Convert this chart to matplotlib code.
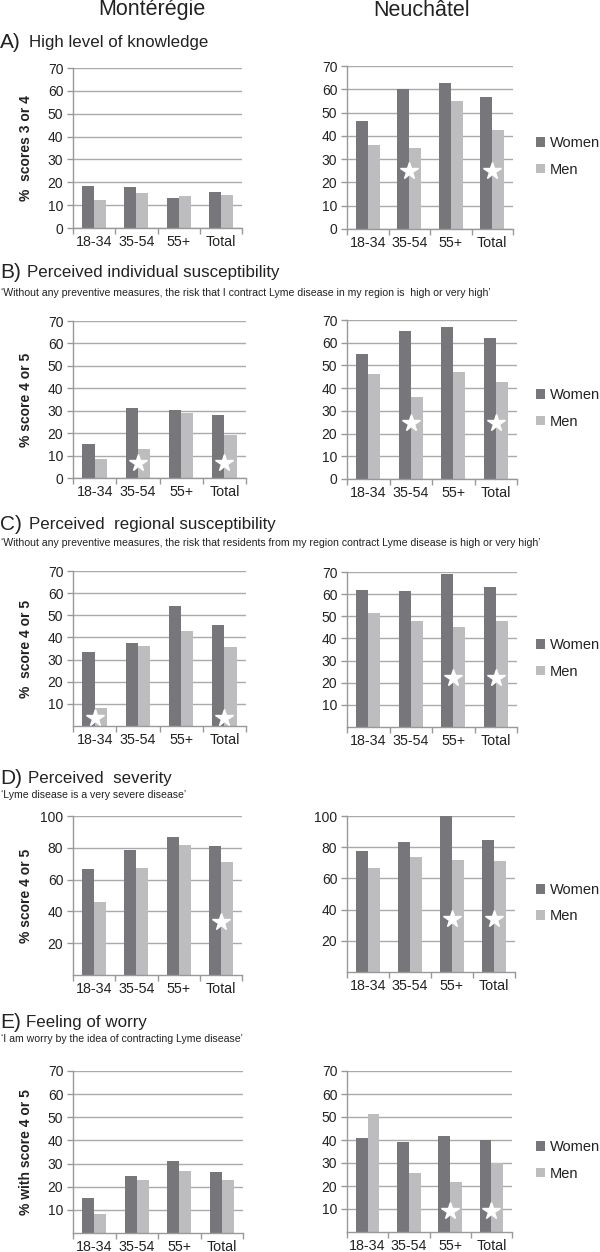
import numpy as np
import matplotlib
matplotlib.use("Agg")
import matplotlib.pyplot as plt
from matplotlib.patches import Patch

plt.rcParams['font.family'] = ['Liberation Sans', 'DejaVu Sans']

# ---------------- data ----------------
categories = ["18-34", "35-54", "55+", "Total"]
regions = ["Montérégie", "Neuchâtel"]
series_names = ["Women", "Men"]

# A) High level of knowledge
a_mont_women = [18.2, 18.0, 13.2, 15.6]
a_mont_men = [12.4, 15.2, 14.0, 14.4]
a_neu_women = [46.5, 60.0, 62.5, 56.5]
a_neu_men = [36.0, 35.0, 55.0, 42.5]
a_mont_stars, a_mont_star_y = [], 0
a_neu_stars, a_neu_star_y = [1, 3], 25

# B) Perceived individual susceptibility
b_mont_women = [15.2, 31.0, 30.5, 28.0]
b_mont_men = [8.3, 13.0, 29.0, 19.2]
b_neu_women = [55.0, 65.0, 66.7, 62.2]
b_neu_men = [46.2, 36.2, 47.0, 42.5]
b_mont_stars, b_mont_star_y = [1, 3], 6.5
b_neu_stars, b_neu_star_y = [1, 3], 24.5

# C) Perceived regional susceptibility
c_mont_women = [33.3, 37.7, 54.3, 45.6]
c_mont_men = [8.3, 36.0, 43.0, 35.7]
c_neu_women = [62.0, 61.5, 69.0, 63.2]
c_neu_men = [51.3, 48.0, 45.3, 47.7]
c_mont_stars, c_mont_star_y = [0, 3], 3.8
c_neu_stars, c_neu_star_y = [2, 3], 22.3

# D) Perceived severity
d_mont_women = [66.7, 78.7, 86.7, 81.0]
d_mont_men = [45.8, 67.5, 81.5, 70.8]
d_neu_women = [77.3, 83.3, 100.0, 84.9]
d_neu_men = [66.5, 73.6, 71.5, 71.2]
d_mont_stars, d_mont_star_y = [3], 33.5
d_neu_stars, d_neu_star_y = [2, 3], 33.8

# E) Feeling of worry
e_mont_women = [15.1, 24.7, 31.3, 26.5]
e_mont_men = [8.2, 22.8, 26.8, 22.8]
e_neu_women = [40.7, 39.1, 41.6, 40.1]
e_neu_men = [51.2, 25.8, 21.7, 29.9]
e_mont_stars, e_mont_star_y = [], 0
e_neu_stars, e_neu_star_y = [2, 3], 9.1

panel_letters = ["A)", "B)", "C)", "D)", "E)"]
panel_titles = ["High level of knowledge",
                "Perceived individual susceptibility",
                "Perceived  regional susceptibility",
                "Perceived  severity",
                "Feeling of worry"]
panel_subtitles = ["",
                   "\u2018Without any preventive measures, the risk that I contract Lyme disease in my region is  high or very high\u2019",
                   "\u2018Without any preventive measures, the risk that residents from my region contract Lyme disease is high or very high\u2019",
                   "\u2018Lyme disease is a very severe disease\u2019",
                   "\u2018I am worry by the idea of contracting Lyme disease\u2019"]
y_labels = ["%  scores 3 or 4", "% score 4 or 5", "%  score 4 or 5",
            "% score 4 or 5", "% with score 4 or 5"]
y_ticks = [[0, 10, 20, 30, 40, 50, 60, 70],
           [0, 10, 20, 30, 40, 50, 60, 70],
           [10, 20, 30, 40, 50, 60, 70],
           [20, 40, 60, 80, 100],
           [10, 20, 30, 40, 50, 60, 70]]
y_max = [70, 70, 70, 100, 70]

mont_women = [a_mont_women, b_mont_women, c_mont_women, d_mont_women, e_mont_women]
mont_men = [a_mont_men, b_mont_men, c_mont_men, d_mont_men, e_mont_men]
neu_women = [a_neu_women, b_neu_women, c_neu_women, d_neu_women, e_neu_women]
neu_men = [a_neu_men, b_neu_men, c_neu_men, d_neu_men, e_neu_men]
mont_stars = [(a_mont_stars, a_mont_star_y), (b_mont_stars, b_mont_star_y),
              (c_mont_stars, c_mont_star_y), (d_mont_stars, d_mont_star_y),
              (e_mont_stars, e_mont_star_y)]
neu_stars = [(a_neu_stars, a_neu_star_y), (b_neu_stars, b_neu_star_y),
             (c_neu_stars, c_neu_star_y), (d_neu_stars, d_neu_star_y),
             (e_neu_stars, e_neu_star_y)]

# ---------------- layout / style ----------------
W, H = 600, 1252
WOMEN_C = "#77777b"
MEN_C = "#bdbdbf"
GRID_C = "#aaaaaa"
AX_C = "#999999"
TXT_C = "#222222"

left_boxes = [(73, 242, 68, 228), (73, 246, 321, 478), (73, 246, 571, 726),
              (73, 242, 816, 975), (73, 243, 1071, 1233)]
right_boxes = [(347, 513, 66, 229), (347, 517, 320, 479), (347, 517, 572, 727),
               (347, 515, 816, 972), (347, 512, 1071, 1232)]
title_y = [43, 273, 525, 778, 1022]
subtitle_y = [None, 293, 543, 795, 1039]
title_x = [28, 26, 28, 27, 25]

fig = plt.figure(figsize=(W / 100, H / 100), dpi=100)
fig.patch.set_facecolor("white")


def px_axes(x0, x1, yt, yb):
    return fig.add_axes([x0 / W, 1 - yb / H, (x1 - x0) / W, (yb - yt) / H])


def draw_panel(ax, women, men, stars, ticks, ymax):
    x = np.arange(len(categories))
    bw = 0.285
    ax.set_axisbelow(True)
    ax.bar(x - bw / 2, women, bw, color=WOMEN_C, zorder=2)
    ax.bar(x + bw / 2, men, bw, color=MEN_C, zorder=2)
    idx, sy = stars
    if idx:
        ax.plot(np.array(idx, dtype=float), [sy] * len(idx), ls="none",
                marker="*", ms=13, mfc="white", mec="white", zorder=3)
    ax.set_xlim(-0.5, len(categories) - 0.5)
    ax.set_ylim(0, ymax)
    ax.set_yticks(ticks)
    ax.yaxis.grid(True, color=GRID_C, lw=1.0)
    ax.set_xticks(x)
    ax.set_xticklabels(categories)
    ax.set_xticks(np.arange(-0.5, len(categories)), minor=True)
    ax.tick_params(axis="x", which="major", length=0, pad=5, labelsize=10.3,
                   labelcolor=TXT_C)
    ax.tick_params(axis="x", which="minor", length=4, color=AX_C, width=1,
                   direction="out")
    ax.tick_params(axis="y", length=4, color=AX_C, width=1, pad=3,
                   labelsize=10, labelcolor=TXT_C)
    for s in ("top", "right"):
        ax.spines[s].set_visible(False)
    for s in ("left", "bottom"):
        ax.spines[s].set_color(AX_C)
        ax.spines[s].set_linewidth(1.0)


fig.text(152 / W, 1 - 10 / H, regions[0], fontsize=15.5, ha="center",
         va="center", color=TXT_C)
fig.text(422 / W, 1 - 10 / H, regions[1], fontsize=15.5, ha="center",
         va="center", color=TXT_C)

for i in range(5):
    axl = px_axes(*left_boxes[i])
    draw_panel(axl, mont_women[i], mont_men[i], mont_stars[i], y_ticks[i], y_max[i])
    axl.set_ylabel(y_labels[i], fontsize=10, fontweight="bold", color=TXT_C)
    lb = left_boxes[i]
    axl.yaxis.set_label_coords(33 / W, 1 - ((lb[2] + lb[3]) / 2) / H,
                               transform=fig.transFigure)

    axr = px_axes(*right_boxes[i])
    draw_panel(axr, neu_women[i], neu_men[i], neu_stars[i], y_ticks[i], y_max[i])

    rb = right_boxes[i]
    cy = (rb[2] + rb[3]) / 2 + 9
    handles = [Patch(facecolor=WOMEN_C, label=series_names[0]),
               Patch(facecolor=MEN_C, label=series_names[1])]
    fig.legend(handles=handles, loc="center left",
               bbox_to_anchor=(536 / W, 1 - cy / H), frameon=False,
               fontsize=10.5, handlelength=0.65, handleheight=0.65,
               handletextpad=0.3, labelspacing=0.85, borderpad=0,
               borderaxespad=0, labelcolor=TXT_C)

    fig.text(0 / W, 1 - title_y[i] / H, panel_letters[i], fontsize=15,
             ha="left", va="center", color=TXT_C)
    fig.text((title_x[i] + 1) / W, 1 - title_y[i] / H, panel_titles[i],
             fontsize=12.2, ha="left", va="center", color=TXT_C)
    if subtitle_y[i] is not None:
        fig.text(1 / W, 1 - subtitle_y[i] / H, panel_subtitles[i], fontsize=7.6,
                 ha="left", va="center", color=TXT_C)

fig.savefig("out.png", dpi=100, facecolor="white")
